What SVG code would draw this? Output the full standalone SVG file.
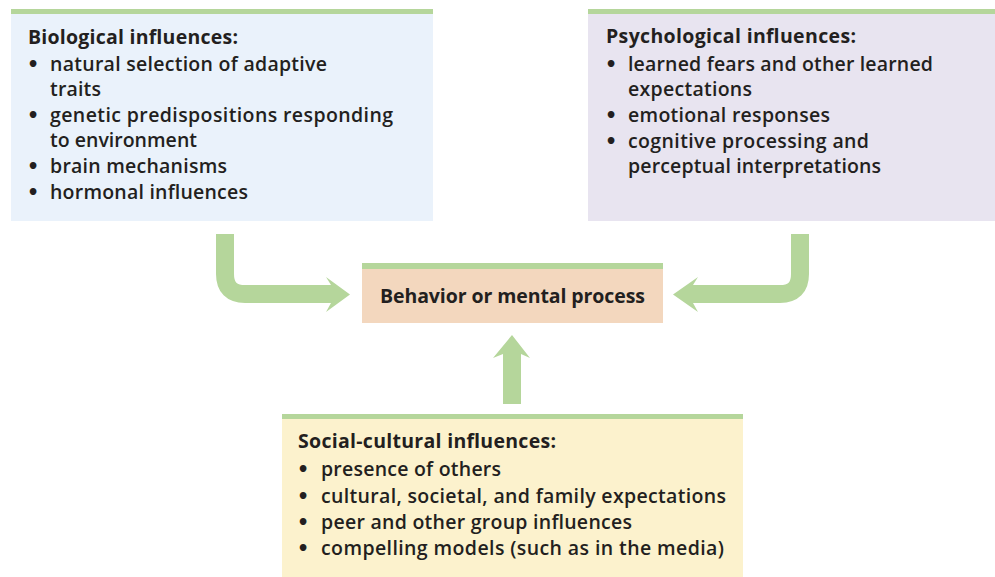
<svg xmlns="http://www.w3.org/2000/svg" width="995" height="577" viewBox="0 0 995 577">
<style>
.t{font-family:"Open Sans","Liberation Sans",sans-serif;font-size:19.5px;font-weight:600;fill:#231f20}
.b{font-weight:bold}
.d{font-family:"DejaVu Sans",sans-serif;font-size:19px;font-weight:bold;fill:#231f20}
.bar{fill:#b5d69b}
.conn{fill:none;stroke:#b5d69b;stroke-width:18}
.head{fill:#b5d69b}
</style>
<rect width="995" height="577" fill="#ffffff"/>
<g id="connectors">
<path class="conn" d="M225,234 V274 Q225,294 245,294 H331"/>
<polygon class="head" points="326,277 350,294.5 326,312 331,303 331,285"/>
<path class="conn" d="M800,234 V274 Q800,294 780,294 H693"/>
<polygon class="head" points="698,277 673,294.5 698,312 693,303 693,285"/>
<path class="conn" d="M512,404 V352"/>
<polygon class="head" points="493,358 512,335 530,358 521,354 503,354"/>
</g>
<g id="biological">
<rect x="11" y="9" width="422" height="212" fill="#eaf2fb"/>
<rect class="bar" x="11" y="9" width="422" height="5"/>
<text class="t b" x="28" y="44" textLength="210">Biological influences:</text>
<text class="d" x="27" y="71">•</text><text class="t" x="50" y="71" textLength="277">natural selection of adaptive</text>
<text class="t" x="50" y="96" textLength="51">traits</text>
<text class="d" x="27" y="122">•</text><text class="t" x="50" y="122" textLength="343">genetic predispositions responding</text>
<text class="t" x="50" y="147" textLength="147">to environment</text>
<text class="d" x="27" y="173">•</text><text class="t" x="50" y="173" textLength="177">brain mechanisms</text>
<text class="d" x="27" y="199">•</text><text class="t" x="50" y="199" textLength="198">hormonal influences</text>
</g>
<g id="psychological">
<rect x="588" y="9" width="407" height="212" fill="#e8e4f0"/>
<rect class="bar" x="588" y="9" width="407" height="5"/>
<text class="t b" x="606" y="43" textLength="250">Psychological influences:</text>
<text class="d" x="605" y="71">•</text><text class="t" x="628" y="71" textLength="305">learned fears and other learned</text>
<text class="t" x="628" y="96" textLength="124">expectations</text>
<text class="d" x="605" y="122">•</text><text class="t" x="628" y="122" textLength="202">emotional responses</text>
<text class="d" x="605" y="148">•</text><text class="t" x="628" y="148" textLength="241">cognitive processing and</text>
<text class="t" x="628" y="173" textLength="253">perceptual interpretations</text>
</g>
<g id="behavior">
<rect x="362" y="263" width="301" height="60" fill="#f3d7be"/>
<rect class="bar" x="362" y="263" width="301" height="6"/>
<text class="t b" x="380" y="303" textLength="265">Behavior or mental process</text>
</g>
<g id="social">
<rect x="282" y="414" width="461" height="163" fill="#fcf2cd"/>
<rect class="bar" x="282" y="414" width="461" height="5"/>
<text class="t b" x="298" y="448" textLength="258">Social-cultural influences:</text>
<text class="d" x="297" y="476">•</text><text class="t" x="321" y="476" textLength="180">presence of others</text>
<text class="d" x="297" y="503">•</text><text class="t" x="321" y="503" textLength="405">cultural, societal, and family expectations</text>
<text class="d" x="297" y="529">•</text><text class="t" x="321" y="529" textLength="311">peer and other group influences</text>
<text class="d" x="297" y="555">•</text><text class="t" x="321" y="555" textLength="403">compelling models (such as in the media)</text>
</g>
</svg>
